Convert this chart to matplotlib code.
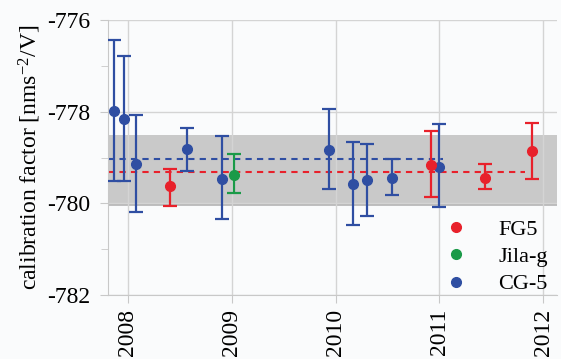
import matplotlib.pyplot as plt
import numpy as np
from matplotlib.lines import Line2D

# FG5 absolute gravimeter comparisons
fg5_t = [2008.41, 2010.92, 2011.44, 2011.89]
fg5_val = [-779.62, -779.16, -779.45, -778.86]
fg5_top = [-779.25, -778.43, -779.15, -778.24]
fg5_bot = [-780.06, -779.85, -779.69, -779.47]

# Jila-g
jila_t = [2009.02]
jila_val = [-779.38]
jila_top = [-778.92]
jila_bot = [-779.78]

# CG-5 relative gravimeter
cg5_t = [2007.87, 2007.96, 2008.08, 2008.57, 2008.91, 2009.94, 2010.17, 2010.30, 2010.54, 2011.00]
cg5_val = [-777.98, -778.15, -779.15, -778.81, -779.46, -778.84, -779.57, -779.49, -779.44, -779.20]
cg5_top = [-776.43, -776.78, -778.08, -778.35, -778.53, -777.93, -778.67, -778.70, -779.03, -778.27]
cg5_bot = [-779.52, -779.52, -780.18, -779.30, -780.34, -779.68, -780.47, -780.28, -779.82, -780.08]

# mean values and band
fg5_mean = -779.31
fg5_mean_span = [2007.81, 2011.82]
cg5_mean = -779.02
cg5_mean_span = [2007.81, 2011.03]
band = [-780.04, -778.5]

years = [2008, 2009, 2010, 2011, 2012]

RED = "#e8212b"
GREEN = "#1a9a48"
BLUE = "#2f4ea2"

plt.rcParams["font.family"] = ["Liberation Serif", "DejaVu Serif"]
plt.rcParams["mathtext.fontset"] = "custom"
plt.rcParams["mathtext.rm"] = "Liberation Serif"
plt.rcParams["mathtext.default"] = "rm"
plt.rcParams["axes.unicode_minus"] = False

fig = plt.figure(figsize=(5.61, 3.59), dpi=100, facecolor="#fafbfc")
ax = fig.add_axes([0.1925, 0.178, 0.80, 0.766])
ax.set_facecolor("#fafbfc")

ax.axhspan(band[0], band[1], color="#c9c9c9", zorder=1, lw=0)
ax.axhline(band[0], color="#b4b4b4", lw=1.2, zorder=1)

ax.plot(cg5_mean_span, [cg5_mean] * 2, ls=(0, (3, 2.5)), color=BLUE, lw=1.5, zorder=2)
ax.plot(fg5_mean_span, [fg5_mean] * 2, ls=(0, (3, 2.5)), color=RED, lw=1.5, zorder=2)


def draw(t, val, top, bot, color):
    val = np.array(val)
    yerr = [val - np.array(bot), np.array(top) - val]
    ax.errorbar(t, val, yerr=yerr, fmt="o", color=color, ms=7, lw=1.6,
                capsize=5, capthick=1.6, zorder=3)


draw(cg5_t, cg5_val, cg5_top, cg5_bot, BLUE)
draw(fg5_t, fg5_val, fg5_top, fg5_bot, RED)
draw(jila_t, jila_val, jila_top, jila_bot, GREEN)

ax.set_xlim(2007.81, 2012.13)
ax.set_ylim(-782, -776)
ax.set_xticks(years)
ax.set_xticklabels([str(y) for y in years], rotation=90)
ax.set_yticks([-782, -780, -778, -776])
ax.set_yticks([-781, -779, -777], minor=True)
ax.grid(True, which="major", color="#d4d4d4", lw=1, zorder=0)
ax.tick_params(axis="both", which="both", color="#c8c8c8", labelsize=17)
ax.tick_params(axis="x", length=6, pad=4)
ax.tick_params(axis="y", length=6, pad=7)
ax.tick_params(axis="y", which="minor", length=5)
for s in ["top", "right"]:
    ax.spines[s].set_visible(False)
for s in ["left", "bottom"]:
    ax.spines[s].set_color("#c8c8c8")
ax.set_ylabel("calibration factor [nms$^{-2}$/V]", fontsize=17, labelpad=3)

handles = [Line2D([], [], marker="o", ls="none", color=c, ms=7) for c in (RED, GREEN, BLUE)]
ax.legend(handles, ["FG5", "Jila-g", "CG-5"], loc="lower right", frameon=False,
          fontsize=16, handletextpad=0.9, labelspacing=0.3, bbox_to_anchor=(1.025, -0.07))

fig.savefig("out.png", dpi=100, facecolor=fig.get_facecolor())
